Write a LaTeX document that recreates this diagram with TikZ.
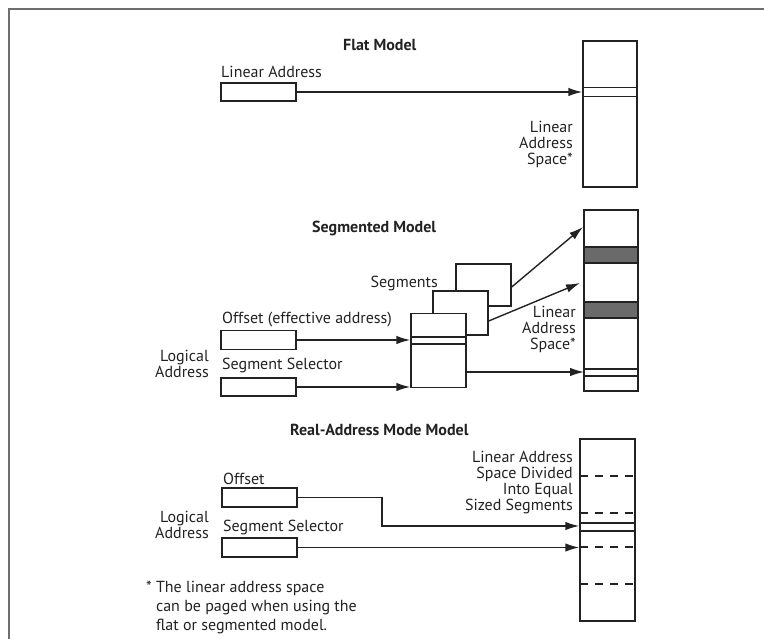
\documentclass[tikz,border=0pt]{standalone}
\usepackage{fontspec}
\setmainfont{PT Sans}
\usetikzlibrary{arrows.meta}
\definecolor{lineink}{HTML}{222222}
\definecolor{bandgray}{HTML}{6A6A6A}
\definecolor{frameink}{HTML}{6E6E6E}
\tikzset{
  addrbox/.style={draw=lineink,line width=1.4pt,minimum width=75pt,minimum height=19pt,inner sep=0pt},
  segbox/.style={draw=lineink,line width=1.4pt,fill=white,minimum width=55pt,inner sep=0pt},
  spacecol/.style={draw=lineink,line width=1.4pt,minimum width=54pt,inner sep=0pt},
  lbl/.style={inner sep=0pt,text=lineink,font=\fontsize{16}{16}\selectfont,text height=11pt,text depth=0pt},
  lbllines/.style={inner sep=0pt,text=lineink,font=\fontsize{16}{16}\selectfont,align=right},
  ttl/.style={inner sep=0pt,text=lineink,font=\fontsize{16}{16}\selectfont\bfseries,text height=11pt,text depth=0pt},
  conn/.style={-{Latex[length=14pt,width=8.5pt]},draw=lineink,line width=1.4pt},
  wire/.style={draw=lineink,line width=1.4pt},
  segdash/.style={draw=lineink,line width=1.4pt,dash pattern=on 8pt off 7pt}
}

\begin{document}
\begin{tikzpicture}[x=1pt,y=-1pt]
\useasboundingbox (0,0) rectangle (764,639);
% frame
\draw[frameink,line width=2pt] (9,639) -- (9,9) -- (764,9);

% flat model
\node[ttl,anchor=west] (flatttl) at (343,45) {Flat Model};
\node[spacecol,minimum height=146pt] (flatcol) at (610,114) {};
\foreach \y in {87.5,96.5}{\draw[wire] (583,\y) -- (637,\y);}
\node[lbl,anchor=west] (flatlbl) at (221,72) {Linear Address};
\node[addrbox,minimum height=18pt] (flatbox) at (258.5,92) {};
\draw[conn] (flatbox.east) -- (flatbox.east -| flatcol.west);
\node[lbllines,anchor=east] (flatspc) at (573,144) {Linear\\Address\\Space*};

% segmented model
\node[ttl,anchor=west] (segttl) at (312,227) {Segmented Model};
\node[spacecol,minimum height=181pt] (segcol) at (611,300.5) {};
\foreach \t/\b in {247/263,302/318}{\filldraw[wire,fill=bandgray] (584,\t) rectangle (638,\b);}
\foreach \y in {369,376}{\draw[wire] (584,\y) -- (638,\y);}
\node[lbllines,anchor=east] (segspc) at (576,329) {Linear\\Address\\Space*};
\node[segbox,minimum height=42pt] (seg3) at (483.5,285) {};
\node[segbox,minimum height=44pt] (seg2) at (460.5,313) {};
\node[segbox,minimum height=74pt] (seg1) at (438.5,350.5) {};
\foreach \y in {337,344}{\draw[wire] (411,\y) -- (466,\y);}
\node[lbl,anchor=east] (seglbl) at (438,282) {Segments};
\coordinate (segtip3) at (583,227);
\coordinate (segtip2) at (580,283);
\coordinate (segtip1) at (584,372);
\draw[conn] ([yshift=-2pt]seg3.east) -- (segtip3);
\draw[conn] ([yshift=-8pt]seg2.east) -- (segtip2);
\draw[conn] (seg1.east |- segtip1) -- (segtip1);
\node[lbl,anchor=west] (segofflbl) at (222,318) {Offset (effective address)};
\node[addrbox] (segoff) at (258.5,340) {};
\node[lbl,anchor=west] (segsellbl) at (222,364) {Segment Selector};
\node[addrbox,minimum height=18pt] (segsel) at (258.5,387) {};
\draw[conn] (segoff.east) -- (segoff.east -| seg1.west);
\draw[conn] (segsel.east) -- (segsel.east -| seg1.west);
\node[lbllines,anchor=east] (seglog) at (209,364) {Logical\\Address};

% real-address mode model
\node[ttl,anchor=west] (realttl) at (290,430) {Real-Address Mode Model};
\node[spacecol,minimum width=55pt,minimum height=182pt] (realcol) at (607.5,530) {};
\foreach \y in {476,513,547,584}{\draw[segdash] (580,\y) -- (635,\y);}
\draw[wire] (580,523) -- (635,523);
\draw[wire,line width=2pt] (580,531) -- (635,531);
\node[lbllines,anchor=east] (realspc) at (573,482.5) {Linear Address\\Space Divided\\Into Equal\\Sized Segments};
\node[lbl,anchor=west] (realofflbl) at (223,479) {Offset};
\node[addrbox] (realoff) at (259.5,497.5) {};
\node[lbl,anchor=west] (realsellbl) at (223,526) {Segment Selector};
\node[addrbox] (realsel) at (259.5,547.5) {};
\coordinate (realbend) at (382,526);
\draw[conn] (realoff.east) -| (realbend) -- (realbend -| realcol.west);
\draw[conn] (realsel.east) -- (realsel.east -| realcol.west);
\node[lbllines,anchor=east] (reallog) at (209,524.5) {Logical\\Address};

% footnote
\node[inner sep=0pt,text=lineink,font=\fontsize{16}{19}\selectfont,align=left,anchor=west] (fnote) at (146,607) {* The linear address space\\\hphantom{* }can be paged when using the\\\hphantom{* }flat or segmented model.};
\end{tikzpicture}
\end{document}
